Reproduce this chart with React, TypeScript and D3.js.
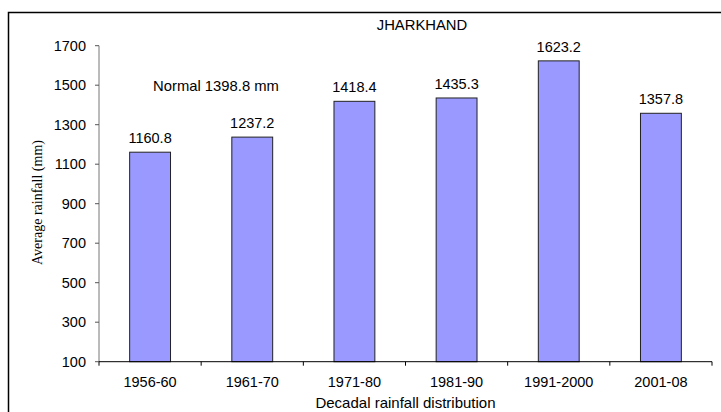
import React from "react";
import * as d3 from "d3";

const categories = ["1956-60", "1961-70", "1971-80", "1981-90", "1991-2000", "2001-08"];
const rainfall = [1160.8, 1237.2, 1418.4, 1435.3, 1623.2, 1357.8];
const yTicks = [100, 300, 500, 700, 900, 1100, 1300, 1500, 1700];
const title = "JHARKHAND";
const normalNote = "Normal 1398.8 mm";

export default function App() {
  const W = 721, H = 412;
  const x = d3.scaleBand<string>().domain(categories).range([99, 712]).paddingInner(0.6).paddingOuter(0.3);
  const y = d3.scaleLinear().domain([100, 1700]).range([361.7, 45.7]);
  const font = "Arial, 'Liberation Sans', sans-serif";
  const step = x.step();
  const xTickPos = d3.range(categories.length + 1).map((i) => 99 + i * step);
  return (
    <svg width={W} height={H} style={{ position: "absolute", left: 0, top: 0, background: "#fff" }}>
      {/* outer frame */}
      <path d={`M8.5,${H + 2} V12.5 H${W + 2}`} fill="none" stroke="#000" strokeWidth={1.5} />
      <text x={422} y={30} fontFamily={font} fontSize={14.8} textAnchor="middle">{title}</text>
      <text x={216} y={90.5} fontFamily={font} fontSize={14.8} textAnchor="middle">{normalNote}</text>
      {/* bars */}
      {categories.map((c, i) => (
        <g key={c}>
          <rect x={x(c)} y={y(rainfall[i])} width={x.bandwidth()} height={y(100) - y(rainfall[i])}
            fill="#9999FF" stroke="#222" strokeWidth={1} />
          <text x={(x(c) as number) + x.bandwidth() / 2} y={y(rainfall[i]) - 9} fontFamily={font} fontSize={14.5}
            textAnchor="middle">{rainfall[i].toFixed(1)}</text>
        </g>
      ))}
      {/* y axis */}
      <line x1={99} x2={99} y1={y(1700)} y2={y(100)} stroke="#777" strokeWidth={1} />
      {yTicks.map((t) => (
        <g key={t}>
          <line x1={95} x2={99} y1={y(t)} y2={y(t)} stroke="#555" strokeWidth={1} />
          <text x={86} y={y(t)} dy="0.35em" fontFamily={font} fontSize={14.5} textAnchor="end">{t}</text>
        </g>
      ))}
      {/* x axis */}
      <line x1={99} x2={712} y1={y(100)} y2={y(100)} stroke="#000" strokeWidth={1} />
      {xTickPos.map((p, i) => (
        <line key={i} x1={p} x2={p} y1={y(100)} y2={y(100) + 4} stroke="#000" strokeWidth={1} />
      ))}
      {categories.map((c) => (
        <text key={c} x={(x(c) as number) + x.bandwidth() / 2} y={386.5} fontFamily={font} fontSize={14.5}
          textAnchor="middle">{c}</text>
      ))}
      <text x={405.5} y={408} fontFamily={font} fontSize={15} textAnchor="middle">Decadal rainfall distribution</text>
      <text transform="translate(42,202.5) rotate(-90)" fontFamily="'Times New Roman', 'Liberation Serif', serif"
        fontSize={14} textAnchor="middle">Average rainfall (mm)</text>
    </svg>
  );
}
